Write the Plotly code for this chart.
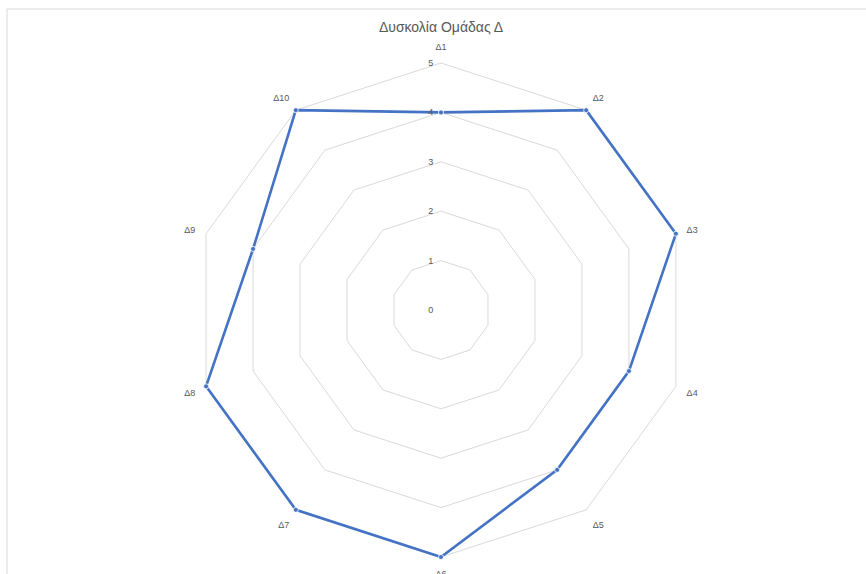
import plotly.graph_objects as go

categories = ["Δ1", "Δ2", "Δ3", "Δ4", "Δ5", "Δ6", "Δ7", "Δ8", "Δ9", "Δ10"]
values = [4, 5, 5, 4, 4, 5, 5, 5, 4, 5]
radial_ticks = [0, 1, 2, 3, 4, 5]
title_text = "Δυσκολία Ομάδας Δ"

W, H = 866, 574
cx, cy, R5 = 441, 310, 247
rmax = 5.06
R = R5 * rmax / 5

fig = go.Figure()
fig.add_trace(go.Scatterpolar(
    r=values + values[:1],
    theta=categories + categories[:1],
    mode="lines+markers",
    line=dict(color="#4472C4", width=2.6),
    marker=dict(size=5, color="#4472C4", line=dict(color="white", width=0.8)),
    cliponaxis=False,
    showlegend=False,
    hoverinfo="skip",
))

fig.update_layout(
    width=W, height=H,
    margin=dict(l=0, r=0, t=0, b=0),
    paper_bgcolor="white",
    plot_bgcolor="white",
    font=dict(family="Liberation Sans, Arial, sans-serif", color="#595959"),
    title=dict(text=title_text, x=cx / W, xanchor="center", y=1 - 27 / H, yanchor="middle",
               font=dict(size=14, color="#595959")),
    polar=dict(
        domain=dict(x=[(cx - R) / W, (cx + R) / W], y=[1 - (cy + R) / H, 1 - (cy - R) / H]),
        bgcolor="rgba(0,0,0,0)",
        gridshape="linear",
        angularaxis=dict(
            direction="clockwise", rotation=90,
            showgrid=False, showline=False,
            ticks="outside", ticklen=6, tickcolor="rgba(0,0,0,0)",
            tickfont=dict(size=9, color="#595959"),
        ),
        radialaxis=dict(
            range=[0, rmax], tickvals=radial_ticks, angle=90, side="counterclockwise",
            showline=False, showgrid=True, gridcolor="#D9D9D9", gridwidth=1,
            ticks="outside", ticklen=4, tickcolor="rgba(0,0,0,0)",
            tickfont=dict(size=9, color="#595959"), tickangle=90,
        ),
    ),
    shapes=[dict(type="rect", xref="paper", yref="paper",
                 x0=7 / W, x1=1.05, y0=-0.05, y1=1 - 9 / H,
                 line=dict(color="#D9D9D9", width=1), fillcolor="rgba(0,0,0,0)", layer="below")],
)

fig.write_html("out.html")
